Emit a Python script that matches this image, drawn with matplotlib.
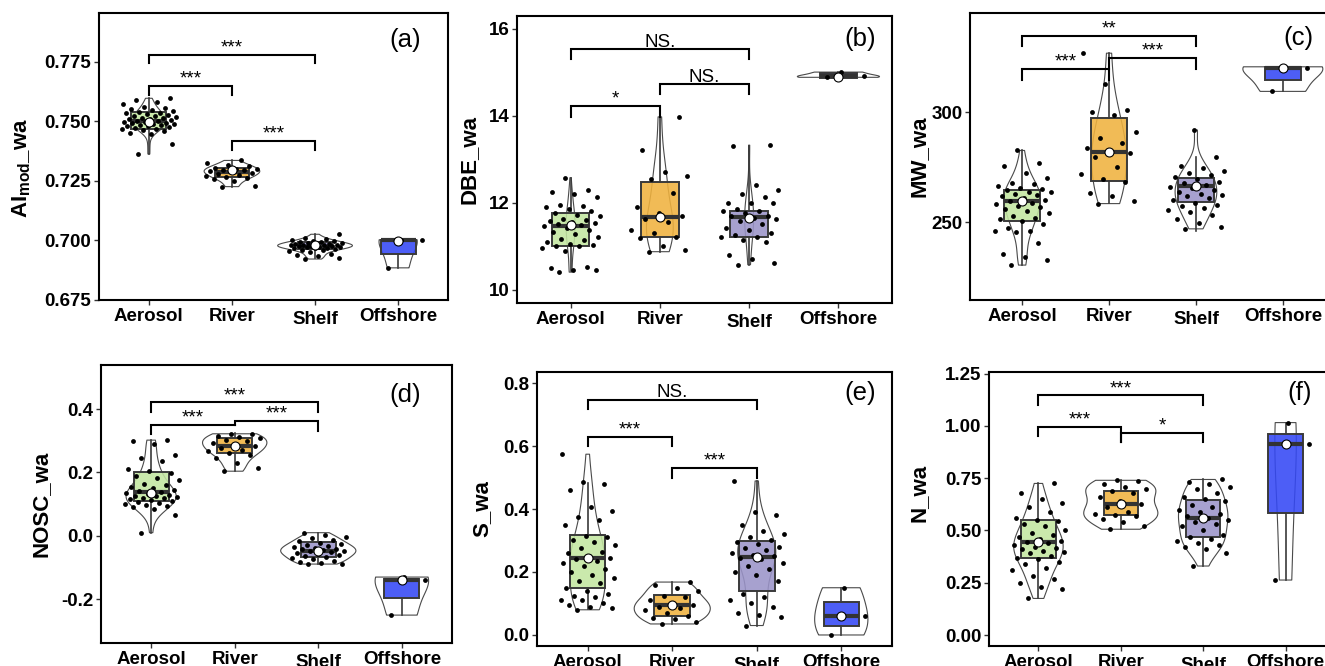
import numpy as np
import matplotlib
matplotlib.use('Agg')
import matplotlib.pyplot as plt
from matplotlib import transforms
from matplotlib.colors import to_rgba

plt.rcParams['font.family'] = ['Liberation Sans', 'DejaVu Sans']
plt.rcParams['mathtext.fontset'] = 'custom'
plt.rcParams['mathtext.rm'] = 'Liberation Sans:bold'
plt.rcParams['mathtext.it'] = 'Liberation Sans:bold'
plt.rcParams['mathtext.bf'] = 'Liberation Sans:bold'
plt.rcParams['axes.unicode_minus'] = False

categories = ['Aerosol', 'River', 'Shelf', 'Offshore']
box_colors = ['#c3e6a1', '#f0b23e', '#9b94c9', '#3448f5']

# ---------------- panel (a) AI_mod_wa ----------------
a_aer = [0.7363, 0.7405, 0.7448, 0.7452, 0.7458, 0.7463, 0.7467, 0.7470, 0.7472, 0.7476,
         0.7479, 0.7481, 0.7484, 0.7486, 0.7489, 0.7491, 0.7493, 0.7495, 0.7497, 0.7499,
         0.7501, 0.7503, 0.7506, 0.7508, 0.7511, 0.7513, 0.7516, 0.7519, 0.7521, 0.7524,
         0.7527, 0.7531, 0.7534, 0.7537, 0.7541, 0.7544, 0.7547, 0.7551, 0.7556, 0.7562,
         0.7571, 0.7583, 0.7589, 0.7597]
a_riv = [0.7226, 0.7229, 0.7251, 0.7258, 0.7263, 0.7268, 0.7271, 0.7276, 0.7281, 0.7284,
         0.7289, 0.7291, 0.7294, 0.7297, 0.7299, 0.7302, 0.7305, 0.7312, 0.7318, 0.7324, 0.7336]
a_she = [0.6922, 0.6925, 0.6933, 0.6938, 0.6944, 0.6951, 0.6956, 0.6959, 0.6962, 0.6965,
         0.6967, 0.6969, 0.6970, 0.6971, 0.6973, 0.6974, 0.6975, 0.6976, 0.6977, 0.6979,
         0.6980, 0.6981, 0.6982, 0.6984, 0.6985, 0.6986, 0.6988, 0.6990, 0.6992, 0.6994,
         0.6996, 0.6999, 0.7003, 0.7008, 0.7012, 0.7026]
a_off = [0.6885, 0.7001, 0.7003]
a_q1 = [0.7470, 0.7267, 0.6963, 0.6943]
a_med = [0.7502, 0.7288, 0.6974, 0.7000]
a_q3 = [0.7540, 0.7305, 0.6992, 0.7002]
a_wlo = [0.7365, 0.7226, 0.6925, 0.6885]
a_whi = [0.7600, 0.7336, 0.7026, 0.7003]
a_center = [0.7498, 0.7295, 0.6981, 0.6999]

# ---------------- panel (b) DBE_wa ----------------
b_aer = [10.40, 10.44, 10.45, 10.50, 10.52, 10.88, 10.95, 11.00, 11.00, 11.02, 11.05, 11.10,
         11.13, 11.17, 11.20, 11.28, 11.33, 11.38, 11.42, 11.45, 11.48, 11.50, 11.52, 11.55,
         11.57, 11.60, 11.62, 11.70, 11.72, 11.75, 11.80, 11.85, 11.90, 11.93, 11.95, 12.12,
         12.20, 12.25, 12.28, 12.57]
b_riv = [10.87, 10.92, 11.00, 11.18, 11.20, 11.30, 11.38, 11.55, 11.62, 11.68, 11.75, 11.90,
         12.22, 12.55, 12.60, 12.70, 13.20, 13.97]
b_she = [10.57, 10.60, 10.70, 10.80, 11.10, 11.15, 11.20, 11.20, 11.25, 11.30, 11.38, 11.42,
         11.50, 11.58, 11.62, 11.65, 11.70, 11.70, 11.75, 11.80, 11.80, 11.85, 11.98, 12.00,
         12.00, 12.12, 12.20, 12.30, 12.40, 13.30, 13.32]
b_off = [14.88, 14.90, 15.00]
b_q1 = [10.99, 11.21, 11.21, 14.87]
b_med = [11.46, 11.67, 11.67, 14.92]
b_q3 = [11.76, 12.47, 11.80, 14.99]
b_wlo = [10.42, 10.87, 10.57, 14.86]
b_whi = [12.57, 13.97, 13.30, 15.00]
b_center = [11.48, 11.67, 11.64, 14.89]

# ---------------- panel (c) MW_wa ----------------
c_aer = [230.5, 232.8, 234.3, 235.4, 240.4, 245.5, 246.0, 246.2, 247.3, 249.0, 250.5, 251.5,
         252.0, 253.0, 254.2, 255.0, 256.0, 257.0, 257.5, 258.3, 259.0, 259.5, 260.2, 261.0,
         261.8, 262.5, 263.0, 263.8, 264.0, 264.5, 265.0, 265.5, 266.3, 267.3, 267.8, 270.0,
         272.5, 275.4, 276.9, 282.7]
c_riv = [258.5, 259.5, 262.0, 263.5, 268.5, 269.5, 272.0, 275.0, 279.5, 281.5, 282.5, 284.0,
         286.0, 288.5, 291.0, 299.0, 300.0, 301.0, 313.0, 327.0]
c_she = [247.0, 248.0, 249.5, 251.5, 253.5, 254.5, 255.5, 256.5, 257.5, 258.0, 259.0, 260.0,
         261.0, 262.0, 262.5, 263.0, 264.0, 264.5, 265.5, 266.0, 267.0, 268.0, 268.5, 269.5,
         270.5, 271.5, 272.5, 273.5, 274.5, 275.5, 279.5, 292.0]
c_off = [309.6, 320.2, 320.8]
c_q1 = [250.8, 268.8, 259.1, 314.9]
c_med = [259.7, 282.1, 266.6, 320.2]
c_q3 = [264.7, 297.7, 270.1, 320.5]
c_wlo = [230.5, 258.7, 246.2, 309.6]
c_whi = [282.7, 327.0, 279.5, 320.8]
c_center = [259.7, 282.1, 266.6, 320.2]

# ---------------- panel (d) NOSC_wa ----------------
d_aer = [0.010, 0.065, 0.085, 0.090, 0.093, 0.097, 0.100, 0.104, 0.108, 0.110, 0.112, 0.115,
         0.118, 0.120, 0.122, 0.125, 0.127, 0.130, 0.132, 0.135, 0.137, 0.140, 0.145, 0.150,
         0.155, 0.160, 0.165, 0.175, 0.182, 0.190, 0.198, 0.205, 0.210, 0.235, 0.245, 0.255,
         0.290, 0.298, 0.302]
d_riv = [0.204, 0.215, 0.230, 0.245, 0.255, 0.262, 0.268, 0.272, 0.278, 0.283, 0.288, 0.292,
         0.298, 0.303, 0.308, 0.312, 0.316, 0.320, 0.322]
d_she = [-0.089, -0.088, -0.085, -0.082, -0.078, -0.074, -0.070, -0.066, -0.063, -0.060,
         -0.057, -0.054, -0.051, -0.049, -0.047, -0.045, -0.043, -0.040, -0.037, -0.034,
         -0.031, -0.028, -0.025, -0.021, -0.017, -0.012, -0.008, -0.003, 0.004, 0.010]
d_off = [-0.250, -0.140, -0.130]
d_q1 = [0.110, 0.260, -0.068, -0.195]
d_med = [0.139, 0.283, -0.047, -0.140]
d_q3 = [0.200, 0.309, -0.019, -0.135]
d_wlo = [0.010, 0.204, -0.089, -0.250]
d_whi = [0.302, 0.323, 0.0105, -0.130]
d_center = [0.134, 0.283, -0.047, -0.140]

# ---------------- panel (e) S_wa ----------------
e_aer = [0.080, 0.085, 0.090, 0.095, 0.100, 0.110, 0.112, 0.120, 0.125, 0.130, 0.140, 0.150,
         0.165, 0.170, 0.180, 0.190, 0.200, 0.210, 0.220, 0.230, 0.235, 0.240, 0.245, 0.250,
         0.260, 0.265, 0.275, 0.285, 0.295, 0.300, 0.310, 0.315, 0.350, 0.365, 0.375, 0.395,
         0.405, 0.460, 0.478, 0.487, 0.574]
e_riv = [0.035, 0.040, 0.050, 0.055, 0.060, 0.070, 0.080, 0.085, 0.090, 0.095, 0.100, 0.110,
         0.120, 0.125, 0.140, 0.150, 0.160, 0.168]
e_she = [0.030, 0.058, 0.062, 0.070, 0.090, 0.100, 0.110, 0.120, 0.130, 0.170, 0.190, 0.200,
         0.210, 0.220, 0.230, 0.240, 0.245, 0.250, 0.255, 0.260, 0.270, 0.275, 0.280, 0.290,
         0.295, 0.300, 0.310, 0.320, 0.330, 0.350, 0.380, 0.390, 0.489]
e_off = [0.000, 0.060, 0.150]
e_q1 = [0.150, 0.060, 0.140, 0.030]
e_med = [0.246, 0.095, 0.248, 0.060]
e_q3 = [0.317, 0.127, 0.298, 0.105]
e_wlo = [0.084, 0.035, 0.028, 0.000]
e_whi = [0.483, 0.169, 0.489, 0.150]
e_center = [0.246, 0.095, 0.248, 0.060]

# ---------------- panel (f) N_wa ----------------
f_aer = [0.175, 0.220, 0.230, 0.250, 0.270, 0.280, 0.310, 0.320, 0.340, 0.350, 0.365, 0.370,
         0.380, 0.390, 0.395, 0.400, 0.410, 0.415, 0.420, 0.430, 0.440, 0.445, 0.450, 0.460,
         0.470, 0.480, 0.490, 0.500, 0.520, 0.530, 0.545, 0.550, 0.560, 0.590, 0.610, 0.630,
         0.650, 0.680, 0.725]
f_riv = [0.506, 0.520, 0.540, 0.555, 0.570, 0.575, 0.580, 0.590, 0.610, 0.625, 0.640, 0.660,
         0.680, 0.690, 0.700, 0.710, 0.720, 0.735, 0.740]
f_she = [0.330, 0.390, 0.410, 0.420, 0.430, 0.440, 0.450, 0.460, 0.470, 0.480, 0.500, 0.520,
         0.530, 0.540, 0.550, 0.560, 0.570, 0.580, 0.590, 0.600, 0.610, 0.620, 0.640, 0.650,
         0.660, 0.680, 0.700, 0.710, 0.720, 0.730, 0.744]
f_off = [0.263, 0.916, 1.016]
f_q1 = [0.366, 0.573, 0.470, 0.584]
f_med = [0.446, 0.629, 0.562, 0.916]
f_q3 = [0.548, 0.690, 0.648, 0.963]
f_wlo = [0.175, 0.506, 0.330, 0.263]
f_whi = [0.728, 0.740, 0.744, 1.016]
f_center = [0.446, 0.629, 0.562, 0.916]

# significance comparisons: (group1, group2, label)
a_sig = [(1, 3, '***'), (1, 2, '***'), (2, 3, '***')]
b_sig = [(1, 3, 'NS.'), (2, 3, 'NS.'), (1, 2, '*')]
c_sig = [(1, 3, '**'), (1, 2, '***'), (2, 3, '***')]
d_sig = [(1, 3, '***'), (1, 2, '***'), (2, 3, '***')]
e_sig = [(1, 3, 'NS.'), (1, 2, '***'), (2, 3, '***')]
f_sig = [(1, 3, '***'), (1, 2, '***'), (2, 3, '*')]

# ---------------- layout / style (not data) ----------------
W, H = 1325, 666
panels = [
    dict(rect=(99, 13, 448, 300), groups=[a_aer, a_riv, a_she, a_off],
         q1=a_q1, med=a_med, q3=a_q3, wlo=a_wlo, whi=a_whi, center=a_center, sig=a_sig,
         brk=[(0.7778, 0.7743, 0.7743), (0.7648, 0.7610, 0.7610), (0.7418, 0.7379, 0.7379)],
         vw=[0.42, 0.67, 0.9, 0.46], ylim=(0.675, 0.7955),
         yticks=[0.675, 0.700, 0.725, 0.750, 0.775], yfmt='{:.3f}',
         ylabel=r'AI$_{\mathrm{mod}}$_wa', lab=(0.877, 0.906), ylc=(-0.19, 0.46)),
    dict(rect=(517, 16, 892, 303), groups=[b_aer, b_riv, b_she, b_off],
         q1=b_q1, med=b_med, q3=b_q3, wlo=b_wlo, whi=b_whi, center=b_center, sig=b_sig,
         brk=[(15.52, 15.29, 15.29), (14.72, 14.49, 14.49), (14.22, 13.97, 13.97)],
         vw=[0.1, 0.3, 0.1, 0.92], ylim=(9.69, 16.29),
         yticks=[10, 12, 14, 16], yfmt='{:.0f}',
         ylabel='DBE_wa', lab=(0.915, 0.92), ylc=(-0.10, 0.5)),
    dict(rect=(970, 13, 1335, 300), groups=[c_aer, c_riv, c_she, c_off],
         q1=c_q1, med=c_med, q3=c_q3, wlo=c_wlo, whi=c_whi, center=c_center, sig=c_sig,
         brk=[(334.7, 330.1, 330.1), (319.8, 314.9, 314.9), (324.8, 319.9, 319.9)],
         vw=[0.42, 0.4, 0.48, 0.92], ylim=(214.6, 345.3),
         yticks=[250, 300], yfmt='{:.0f}',
         ylabel='MW_wa', lab=(0.90, 0.913), ylc=(-0.11, 0.5)),
    dict(rect=(101, 365, 452, 643), groups=[d_aer, d_riv, d_she, d_off],
         q1=d_q1, med=d_med, q3=d_q3, wlo=d_wlo, whi=d_whi, center=d_center, sig=d_sig,
         brk=[(0.421, 0.392, 0.392), (0.349, 0.320, 0.349), (0.362, 0.349, 0.332)],
         vw=[0.6, 0.77, 0.9, 0.64], ylim=(-0.338, 0.539),
         yticks=[-0.2, 0.0, 0.2, 0.4], yfmt='{:.1f}',
         ylabel='NOSC_wa', lab=(0.866, 0.892), ylc=(-0.14, 0.5)),
    dict(rect=(537, 372, 892, 646), groups=[e_aer, e_riv, e_she, e_off],
         q1=e_q1, med=e_med, q3=e_q3, wlo=e_wlo, whi=e_whi, center=e_center, sig=e_sig,
         brk=[(0.747, 0.719, 0.719), (0.629, 0.599, 0.599), (0.530, 0.500, 0.500)],
         vw=[0.42, 0.9, 0.45, 0.63], ylim=(-0.035, 0.835),
         yticks=[0.0, 0.2, 0.4, 0.6, 0.8], yfmt='{:.1f}',
         ylabel='S_wa', lab=(0.909, 0.923), ylc=(-0.127, 0.5)),
    dict(rect=(989, 372, 1335, 646), groups=[f_aer, f_riv, f_she, f_off],
         q1=f_q1, med=f_med, q3=f_q3, wlo=f_wlo, whi=f_whi, center=f_center, sig=f_sig,
         brk=[(1.146, 1.102, 1.102), (0.995, 0.951, 0.924), (0.967, 0.924, 0.924)],
         vw=[0.6, 0.9, 0.6, 0.26], ylim=(-0.0525, 1.258),
         yticks=[0.0, 0.25, 0.5, 0.75, 1.0, 1.25], yfmt='{:.2f}',
         ylabel='N_wa', lab=(0.899, 0.923), ylc=(-0.173, 0.56)),
]
panel_tags = ['(a)', '(b)', '(c)', '(d)', '(e)', '(f)']


def jitter(n, w=0.33):
    i = np.arange(n)
    return ((i * 0.6180339887 + 0.31) % 1.0 - 0.5) * 2 * w


fig = plt.figure(figsize=(W / 100, H / 100), dpi=100)
pos = [1, 2, 3, 4]
FS = 13.5

for p, tag in zip(panels, panel_tags):
    x0, y0, x1, y1 = p['rect']
    ax = fig.add_axes([x0 / W, 1 - y1 / H, (x1 - x0) / W, (y1 - y0) / H])

    # violins
    vp = ax.violinplot(p['groups'], positions=pos, widths=p['vw'],
                       showextrema=False, showmeans=False, showmedians=False)
    for body in vp['bodies']:
        body.set_alpha(None)
        body.set_facecolor('none')
        body.set_edgecolor('#4a4a4a')
        body.set_linewidth(0.8)
        body.set_zorder(1)

    # boxes
    stats = [dict(med=m, q1=a, q3=b, whislo=lo, whishi=hi, fliers=[])
             for m, a, b, lo, hi in zip(p['med'], p['q1'], p['q3'], p['wlo'], p['whi'])]
    bp = ax.bxp(stats, positions=pos, widths=0.42, patch_artist=True,
                showcaps=False, showfliers=False,
                boxprops=dict(edgecolor='#3a3a3a', linewidth=1.4),
                medianprops=dict(color='#333333', linewidth=3.0, solid_capstyle='butt'),
                whiskerprops=dict(color='#3a3a3a', linewidth=1.2), zorder=2)
    for patch, c in zip(bp['boxes'], box_colors):
        patch.set_facecolor(to_rgba(c, 0.88))

    # jittered points
    for k, g in enumerate(p['groups']):
        g = np.asarray(g)
        ax.scatter(pos[k] + jitter(len(g)), g, s=12, c='black', linewidths=0, zorder=3)

    # centre markers
    ax.scatter(pos, p['center'], s=42, c='white', edgecolors='black',
               linewidths=0.8, zorder=4)

    # significance brackets
    for (g1, g2, txt), (yb, yl, yr) in zip(p['sig'], p['brk']):
        ax.plot([g1, g1, g2, g2], [yl, yb, yb, yr], color='black', lw=1.5,
                solid_joinstyle='miter', zorder=5)
        ax.annotate(txt, xy=((g1 + g2) / 2, yb), xytext=(0, 1.7),
                    textcoords='offset points', ha='center', va='baseline',
                    fontsize=FS, zorder=6)

    ax.set_xlim(0.4, 4.6)
    ax.set_ylim(*p['ylim'])
    ax.set_xticks(pos)
    ax.set_xticklabels(categories, fontsize=FS, fontweight='bold')
    ax.set_yticks(p['yticks'])
    ax.set_yticklabels([p['yfmt'].format(v) for v in p['yticks']],
                       fontsize=FS, fontweight='bold')
    ax.tick_params(axis='both', length=3.5, width=1.0, color='#333333', pad=2)
    for sp in ax.spines.values():
        sp.set_linewidth(1.5)
        sp.set_color('black')
    ax.set_ylabel(p['ylabel'], fontsize=16, fontweight='bold')
    ax.yaxis.set_label_coords(*p['ylc'])
    ax.text(p['lab'][0], p['lab'][1], tag, transform=ax.transAxes, ha='center',
            va='center', fontsize=18.5)
    # "Shelf" label sits slightly lower in the original
    lbl = ax.get_xticklabels()[2]
    lbl.set_transform(lbl.get_transform() +
                      transforms.ScaledTranslation(0, -3 / 100, fig.dpi_scale_trans))

fig.savefig('out.png', dpi=100)
